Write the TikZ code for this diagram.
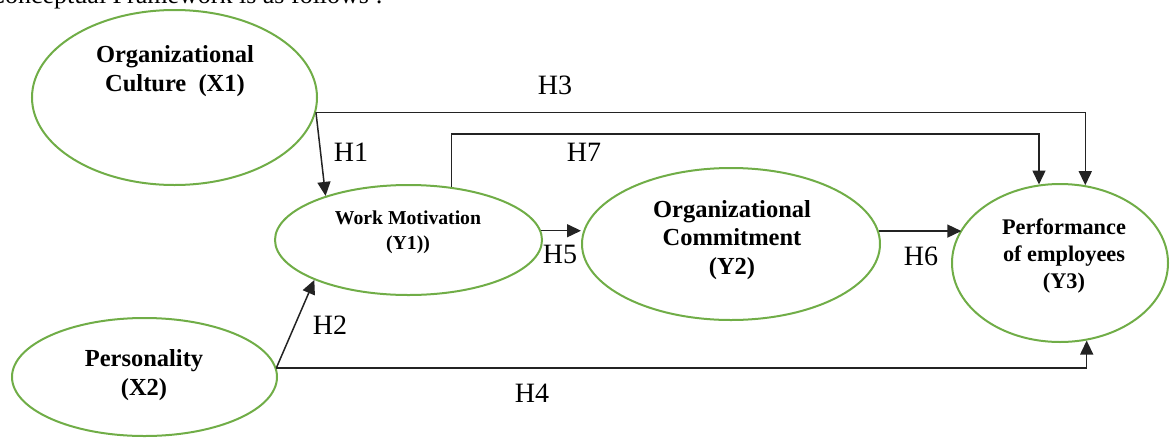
\documentclass[tikz,border=0pt]{standalone}
\usepackage{fontspec}
\setmainfont{Liberation Serif}
\usetikzlibrary{shapes.geometric,arrows.meta}
\definecolor{ovgreen}{RGB}{112,173,71}
\definecolor{linegray}{RGB}{35,35,35}
\begin{document}
\begin{tikzpicture}[x=1pt,y=-1pt,
  oval/.style={ellipse,draw=ovgreen,line width=2pt,inner sep=0pt},
  lbl/.style={font=\fontsize{24.5}{28.5}\selectfont\bfseries,align=center,inner sep=0pt},
  hyp/.style={font=\fontsize{28}{30}\selectfont,inner sep=0pt},
  arr/.style={draw=linegray,line width=1.5pt,-{Triangle[length=14pt,width=13pt]}},
]
\clip (0,0) rectangle (1170,437);
% partially visible caption line at top
\node[anchor=base east,font=\fontsize{26}{28}\selectfont,inner sep=0pt] (cap) at (383,3) {Conceptual Framework is as follows :};
% ellipses
\node[oval,minimum width=285pt,minimum height=175pt] (x1) at (174.5,97.5) {};
\node[oval,minimum width=267pt,minimum height=110pt] (y1) at (408.5,240) {};
\node[oval,minimum width=298pt,minimum height=152pt] (y2) at (731,244) {};
\node[oval,minimum width=216pt,minimum height=158pt] (y3) at (1060,263) {};
\node[oval,minimum width=265pt,minimum height=118pt] (x2) at (144.5,377) {};
% texts
\node[lbl] (tx1) at (175,71) {Organizational\\Culture~ (X1)};
\node[lbl,font=\fontsize{19.7}{25}\selectfont\bfseries] (ty1) at (408,232) {Work Motivation\\(Y1))};
\node[lbl] (ty2) at (732,240) {Organizational\\Commitment\\(Y2)};
\node[lbl,font=\fontsize{22.3}{27}\selectfont\bfseries] (ty3) at (1064,256) {Performance\\of employees\\(Y3)};
\node[lbl] (tx2) at (144,375) {Personality\\(X2)};
% connectors
\coordinate (h7top) at (744,134);
\draw[arr] (x1.-6.3) -| (y3.72);
\draw[arr] (y1.51.6) |- (h7top) -| (y3.105.9);
\draw[arr] (x1.-6.3) -- (y1.152.4);
\draw[arr] (x2.4.4) -- (y1.203.6);
\draw[arr] (x2.4.4) -| (y3.-71.3);
\draw[arr] (y1.4.4) -- (y1.4.4 -| y2.west);
\draw[arr] (y2.5.5) -- (y2.5.5 -| y3.161.4);
% hypothesis labels
\node[hyp] (h1) at (351,152) {H1};
\node[hyp] (h2) at (330,325) {H2};
\node[hyp] (h3) at (555,85) {H3};
\node[hyp] (h4) at (532,393) {H4};
\node[hyp] (h5) at (560,254) {H5};
\node[hyp] (h6) at (921,256) {H6};
\node[hyp] (h7) at (584,152) {H7};
\end{tikzpicture}
\end{document}
